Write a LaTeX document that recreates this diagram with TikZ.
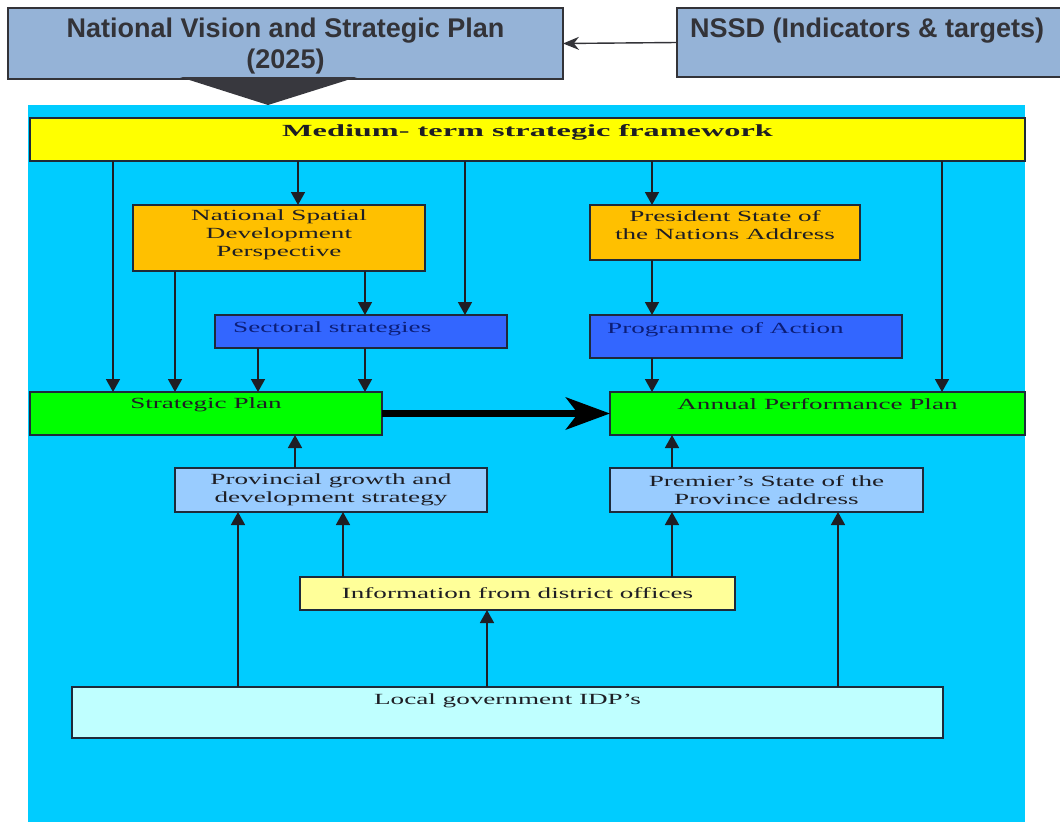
\documentclass[tikz,border=0pt]{standalone}
\usepackage{fontspec}
\setmainfont{Liberation Serif}[FakeStretch=1.75]
\newfontfamily\headfont{Liberation Sans}
\newfontfamily\frameworkfont{Liberation Serif}[FakeStretch=1.9]
\usetikzlibrary{arrows.meta, positioning}

\definecolor{planblue}{HTML}{95B3D7}
\definecolor{skyback}{HTML}{00CCFF}
\definecolor{frameyellow}{HTML}{FFFF00}
\definecolor{nationorange}{HTML}{FFC000}
\definecolor{strategyblue}{HTML}{3366FF}
\definecolor{plangreen}{HTML}{00FF00}
\definecolor{provblue}{HTML}{99CCFF}
\definecolor{infoyellow}{HTML}{FFFF99}
\definecolor{localcyan}{HTML}{BFFFFF}
\definecolor{boxline}{HTML}{1E2A3A}
\definecolor{inkdark}{HTML}{1E1E24}
\definecolor{inknavy}{HTML}{0C1E78}
\definecolor{headgray}{HTML}{333338}
\definecolor{wedgegray}{HTML}{38383E}

\tikzset{
  box/.style={draw=boxline, line width=1.2pt, rectangle, inner sep=0pt, outer sep=0pt, anchor=north west},
  headbox/.style={box, draw=headgray, fill=planblue},
  txt/.style={font=\fontsize{15.5}{18}\selectfont, align=center, inner sep=0pt, text=inkdark},
  headtxt/.style={font=\headfont\bfseries\fontsize{27}{31}\selectfont, align=center, inner sep=0pt, text=headgray},
  arr/.style={draw=inkdark, line width=1.6pt, -{Triangle[width=14pt,length=13pt]}},
  bigarr/.style={draw=black, line width=7pt, -{Stealth[width=32pt,length=44pt,inset=12pt]}},
  thinarr/.style={draw=headgray, line width=1.4pt, -{Stealth[width=13pt,length=16pt]}}
}

\begin{document}
\begin{tikzpicture}[x=1pt, y=-1pt]
\useasboundingbox (0,0) rectangle (1060,822);

% Top boxes
\node[headbox, minimum width=555pt, minimum height=71pt] (nvsp) at (8,8) {};
\node[headtxt, below=10pt of nvsp.north] (nvsptxt) {National Vision and Strategic Plan\\(2025)};

\node[headbox, minimum width=391pt, minimum height=69pt] (nssd) at (677,8) {};
\node[headtxt, anchor=north west] (nssdtxt) at ([xshift=13pt, yshift=-10pt]nssd.north west) {NSSD (Indicators \& targets)};

\draw[thinarr] (nssd.west) -- (nvsp.east);

% Wedge
\fill[wedgegray] (180,77) -- (357,77) -- (268,105) -- cycle;

% Background
\fill[skyback] (28,105) rectangle (1025,822);

% Framework
\node[box, fill=frameyellow, minimum width=995pt, minimum height=43pt] (mtsf) at (30,118) {};
\node[txt, font=\frameworkfont\bfseries\fontsize{17}{20}\selectfont, below=6pt of mtsf.north] (mtsftxt) {Medium- term strategic framework};

% National level
\node[box, fill=nationorange, minimum width=292pt, minimum height=66pt] (nsdp) at (133,205) {};
\node[txt, below=5pt of nsdp.north] (nsdptxt) {National Spatial\\Development\\Perspective};

\node[box, fill=nationorange, minimum width=270pt, minimum height=55pt] (psna) at (590,205) {};
\node[txt, below=5pt of psna.north] (psnatxt) {President State of\\the Nations Address};

\node[box, fill=strategyblue, minimum width=292pt, minimum height=33pt] (sect) at (215,315) {};
\node[txt, text=inknavy, anchor=west] (secttxt) at ([xshift=18pt, yshift=3pt]sect.west) {Sectoral strategies};

\node[box, fill=strategyblue, minimum width=312pt, minimum height=43pt] (poa) at (590,315) {};
\node[txt, text=inknavy, anchor=north west] (poatxt) at ([xshift=17pt, yshift=-7pt]poa.north west) {Programme of Action};

% Plans
\node[box, fill=plangreen, minimum width=352pt, minimum height=43pt] (sp) at (30,392) {};
\node[txt, below=6pt of sp.north] (sptxt) {Strategic Plan};

\node[box, fill=plangreen, minimum width=415pt, minimum height=43pt] (app) at (610,392) {};
\node[txt, below=6pt of app.north] (apptxt) {Annual Performance Plan};

% Provincial level
\node[box, fill=provblue, minimum width=312pt, minimum height=44pt] (pgds) at (175,468) {};
\node[txt] (pgdstxt) at (pgds.center) {Provincial growth and\\development strategy};

\node[box, fill=provblue, minimum width=313pt, minimum height=44pt] (pspa) at (610,468) {};
\node[txt] (pspatxt) at (pspa.center) {Premier's State of the\\Province address};

\node[box, fill=infoyellow, minimum width=435pt, minimum height=33pt] (info) at (300,577) {};
\node[txt] (infotxt) at (info.center) {Information from district offices};

\node[box, fill=localcyan, minimum width=871pt, minimum height=51pt] (lg) at (72,687) {};
\node[txt, below=7pt of lg.north] (lgtxt) {Local government IDP's};

% Down arrows
\draw[arr] (mtsf.south -| 113,0) -- (sp.north -| 113,0);
\draw[arr] (mtsf.south -| 298,0) -- (nsdp.north -| 298,0);
\draw[arr] (mtsf.south -| 465,0) -- (sect.north -| 465,0);
\draw[arr] (mtsf.south -| 652,0) -- (psna.north -| 652,0);
\draw[arr] (mtsf.south -| 942,0) -- (app.north -| 942,0);

\draw[arr] (nsdp.south -| 175,0) -- (sp.north -| 175,0);
\draw[arr] (nsdp.south -| 365,0) -- (sect.north -| 365,0);
\draw[arr] (sect.south -| 258,0) -- (sp.north -| 258,0);
\draw[arr] (sect.south -| 365,0) -- (sp.north -| 365,0);

\draw[arr] (psna.south -| 652,0) -- (poa.north -| 652,0);
\draw[arr] (poa.south -| 652,0) -- (app.north -| 652,0);

% Across
\draw[bigarr] (sp.east) -- (app.west);

% Up arrows
\draw[arr] (pgds.north -| 295,0) -- (sp.south -| 295,0);
\draw[arr] (pspa.north -| 672,0) -- (app.south -| 672,0);

\draw[arr] (info.north -| 343,0) -- (pgds.south -| 343,0);
\draw[arr] (info.north -| 672,0) -- (pspa.south -| 672,0);

\draw[arr] (lg.north -| 238,0) -- (pgds.south -| 238,0);
\draw[arr] (lg.north -| 487,0) -- (info.south -| 487,0);
\draw[arr] (lg.north -| 838,0) -- (pspa.south -| 838,0);

\end{tikzpicture}
\end{document}
